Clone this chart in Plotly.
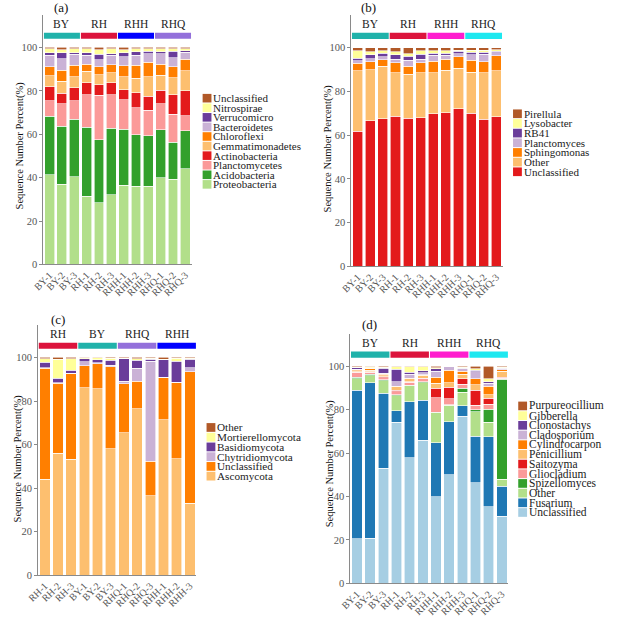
import plotly.graph_objects as go

W, H = 634, 624
FONT = "Liberation Serif, Times New Roman, serif"

# ---------------- data ----------------
# Panel (a): bacterial phyla
a_samples = ["BY-1", "BY-2", "BY-3", "RH-1", "RH-2", "RH-3", "RHH-1", "RHH-2", "RHH-3", "RHQ-1", "RHQ-2", "RHQ-3"]
a_groups = ["BY", "RH", "RHH", "RHQ"]
a_group_colors = ["#20b2aa", "#dc143c", "#0000ff", "#9370db"]
a_taxa = ["Proteobacteria", "Acidobacteria", "Planctomycetes", "Actinobacteria", "Gemmatimonadetes",
          "Chloroflexi", "Bacteroidetes", "Verrucomicro", "Nitrospirae", "Unclassified"]
a_colors = ["#b2df8a", "#33a02c", "#fb9a99", "#e31a1c", "#fdbf6f", "#ff7f00", "#cab2d6", "#6a3d9a", "#ffff99", "#b15928"]
a_values = [  # one row per sample, columns follow a_taxa
    [41.3, 27.0, 7.2, 6.3, 5.2, 4.0, 5.5, 1.0, 1.8, 0.7],
    [37.0, 26.6, 10.4, 4.8, 5.5, 5.2, 5.3, 2.7, 1.5, 1.0],
    [40.5, 26.3, 8.7, 5.8, 5.2, 5.2, 5.1, 0.7, 1.8, 0.7],
    [31.5, 31.8, 14.9, 5.6, 5.2, 3.3, 4.0, 1.2, 1.8, 0.7],
    [28.5, 29.0, 20.5, 4.8, 4.7, 3.7, 3.1, 2.5, 2.2, 1.0],
    [32.0, 30.8, 15.4, 5.6, 4.5, 3.7, 4.3, 0.7, 2.3, 0.7],
    [36.5, 25.8, 13.5, 4.8, 5.9, 5.0, 4.3, 1.7, 1.5, 1.0],
    [36.0, 23.8, 12.3, 7.0, 6.6, 6.1, 4.5, 1.7, 1.3, 0.7],
    [36.0, 23.3, 11.7, 6.5, 9.0, 6.7, 3.8, 1.2, 1.1, 0.7],
    [40.0, 22.0, 12.0, 6.2, 7.0, 5.0, 4.8, 1.0, 1.3, 0.7],
    [39.3, 17.0, 12.9, 9.1, 7.7, 5.2, 4.1, 2.9, 1.1, 0.7],
    [44.2, 17.3, 6.9, 11.6, 9.3, 5.2, 3.3, 0.6, 0.9, 0.7],
]

# Panel (b): bacterial genera
b_samples = a_samples
b_groups = ["BY", "RH", "RHH", "RHQ"]
b_group_colors = ["#20b2aa", "#dc143c", "#ff1dce", "#1ee8f0"]
b_taxa = ["Unclassified", "Other", "Sphingomonas", "Planctomyces", "RB41", "Lysobacter", "Pirellula"]
b_colors = ["#e31a1c", "#fdbf6f", "#ff7f00", "#cab2d6", "#6a3d9a", "#ffff99", "#b15928"]
b_values = [
    [61.7, 27.7, 3.5, 1.1, 1.2, 3.3, 1.5],
    [66.5, 23.5, 3.5, 1.5, 1.7, 1.5, 1.8],
    [67.5, 24.0, 3.0, 1.3, 1.7, 1.0, 1.5],
    [68.7, 19.8, 4.7, 1.6, 2.0, 1.4, 1.8],
    [67.8, 20.0, 3.7, 2.7, 1.8, 1.2, 2.8],
    [68.0, 20.5, 4.7, 1.6, 2.2, 1.7, 1.3],
    [69.7, 18.8, 5.3, 2.7, 1.0, 1.0, 1.5],
    [70.2, 19.5, 5.1, 1.7, 1.0, 1.0, 1.5],
    [72.0, 18.5, 5.3, 1.5, 1.0, 0.5, 1.2],
    [70.0, 18.8, 5.5, 2.5, 1.0, 1.0, 1.2],
    [67.3, 21.2, 5.0, 3.5, 0.8, 1.0, 1.2],
    [68.5, 21.0, 6.8, 1.4, 0.6, 0.7, 1.0],
]

# Panel (c): fungal phyla
c_samples = ["RH-1", "RH-2", "RH-3", "BY-1", "BY-2", "BY-3", "RHQ-1", "RHQ-2", "RHQ-3", "RHH-1", "RHH-2", "RHH-3"]
c_groups = ["RH", "BY", "RHQ", "RHH"]
c_group_colors = ["#dc143c", "#20b2aa", "#9370db", "#0000ff"]
c_taxa = ["Ascomycota", "Unclassified", "Chytridiomycota", "Basidiomycota", "Mortierellomycota", "Other"]
c_colors = ["#fdbf6f", "#ff7f00", "#cab2d6", "#6a3d9a", "#ffff99", "#b15928"]
c_values = [
    [44.0, 51.0, 0.3, 2.4, 1.8, 0.5],
    [56.0, 32.2, 0.3, 2.0, 8.8, 0.7],
    [53.3, 39.2, 0.3, 1.4, 5.3, 0.5],
    [86.0, 10.3, 1.7, 1.5, 0.3, 0.2],
    [85.7, 11.5, 0.4, 1.4, 0.8, 0.2],
    [58.0, 37.8, 0.7, 2.2, 1.0, 0.3],
    [65.5, 22.5, 1.0, 10.5, 0.2, 0.3],
    [76.5, 12.5, 6.0, 3.8, 0.7, 0.5],
    [36.5, 15.8, 45.9, 1.0, 0.4, 0.4],
    [71.5, 19.2, 0.2, 8.1, 0.2, 0.8],
    [53.5, 35.0, 0.2, 9.5, 1.4, 0.4],
    [33.0, 60.5, 1.7, 4.1, 0.3, 0.4],
]

# Panel (d): fungal genera
d_samples = a_samples
d_groups = ["BY", "RH", "RHH", "RHQ"]
d_group_colors = ["#20b2aa", "#dc143c", "#ff1dce", "#1ee8f0"]
d_taxa = ["Unclassified", "Fusarium", "Other", "Spizellomyces", "Gliocladium", "Saitozyma", "Penicillium",
          "Cylindrocarpon", "Cladosporium", "Clonostachys", "Gibberella", "Purpureocillium"]
d_colors = ["#a6cee3", "#1f78b4", "#b2df8a", "#33a02c", "#fb9a99", "#e31a1c", "#fdbf6f",
            "#ff7f00", "#cab2d6", "#6a3d9a", "#ffff99", "#b15928"]
d_values = [
    [20.5, 68.5, 5.3, 0.7, 2.2, 0.3, 0.5, 0.3, 0.4, 0.6, 0.3, 0.4],
    [20.8, 71.7, 3.1, 0.7, 1.0, 0.3, 0.6, 0.6, 0.4, 0.2, 0.3, 0.3],
    [53.0, 34.5, 5.8, 0.5, 1.0, 0.4, 0.5, 0.6, 0.4, 2.5, 0.4, 0.4],
    [74.2, 5.3, 7.0, 0.3, 1.5, 0.7, 1.5, 0.3, 2.2, 5.7, 1.1, 0.2],
    [57.8, 25.9, 7.3, 0.3, 1.4, 0.3, 1.3, 0.3, 1.7, 1.0, 2.5, 0.2],
    [66.0, 18.3, 8.2, 0.3, 1.5, 0.3, 1.2, 0.3, 0.9, 1.0, 1.8, 0.2],
    [39.8, 25.0, 13.7, 0.3, 6.7, 4.5, 2.3, 2.7, 2.8, 1.0, 0.5, 0.7],
    [50.0, 24.5, 7.5, 0.3, 2.7, 5.3, 2.2, 5.7, 1.6, 0.1, 0.05, 0.05],
    [77.0, 4.8, 6.2, 2.0, 1.8, 2.4, 2.1, 1.5, 1.0, 0.4, 0.3, 0.5],
    [46.3, 21.5, 11.2, 1.0, 2.0, 7.0, 2.5, 2.8, 3.2, 0.7, 0.6, 1.2],
    [35.3, 32.2, 6.8, 5.9, 2.3, 2.8, 1.7, 3.7, 1.5, 0.6, 1.4, 5.8],
    [30.8, 13.9, 3.2, 46.1, 0.5, 0.5, 2.8, 0.5, 0.5, 0.3, 0.4, 0.5],
]

y_ticks = [0, 20, 40, 60, 80, 100]
y_title = "Sequence Number Percent(%)"
panel_labels = ["(a)", "(b)", "(c)", "(d)"]

# ---------------- layout geometry (pixels) ----------------
panels = [
    dict(samples=a_samples, groups=a_groups, gcolors=a_group_colors, taxa=a_taxa, colors=a_colors, values=a_values,
         xpx=(32, 183), ypx=(15, 267), title_px=(8, 147), label_px=(50, 8), legend_px=(194.3, 94.3, 9.67), lfs=11),
    dict(samples=b_samples, groups=b_groups, gcolors=b_group_colors, taxa=b_taxa, colors=b_colors, values=b_values,
         xpx=(346, 500), ypx=(15, 269), title_px=(322, 150), label_px=(363.5, 8), legend_px=(510.7, 110, 9.76), lfs=11),
    dict(samples=c_samples, groups=c_groups, gcolors=c_group_colors, taxa=c_taxa, colors=c_colors, values=c_values,
         xpx=(26.7, 188), ypx=(328, 580.7), title_px=(6, 463), label_px=(47, 323), legend_px=(198.3, 426.7, 9.83), lfs=11.2),
    dict(samples=d_samples, groups=d_groups, gcolors=d_group_colors, taxa=d_taxa, colors=d_colors, values=d_values,
         xpx=(345, 506), ypx=(337, 589), title_px=(324, 468), label_px=(364, 328), legend_px=(516, 405, 9.78), lfs=11.5),
]


def px_x(x):
    return x / W


def px_y(y):
    return 1 - y / H


fig = go.Figure()
shapes = []
annotations = []
layout = {}

for i, p in enumerate(panels):
    k = "" if i == 0 else str(i + 1)
    xa, ya = "x" + k, "y" + k
    n = len(p["samples"])
    xs = list(range(n))
    for t, (taxon, col) in enumerate(zip(p["taxa"], p["colors"])):
        fig.add_trace(go.Bar(
            x=xs, y=[row[t] for row in p["values"]], name=taxon,
            marker=dict(color=col, line=dict(color="white", width=0.6)),
            xaxis=xa, yaxis=ya, showlegend=False,
        ))
    layout["xaxis" + k] = dict(
        domain=[px_x(p["xpx"][0]), px_x(p["xpx"][1])], anchor=ya,
        range=[-0.5, n - 0.5], tickvals=xs, ticktext=p["samples"], tickangle=-45,
        showline=True, linecolor="#8a8a8a", linewidth=1, showgrid=False, zeroline=False,
        ticks="", tickfont=dict(family=FONT, size=10, color="#555555"),
    )
    layout["yaxis" + k] = dict(
        domain=[px_y(p["ypx"][1]), px_y(p["ypx"][0])], anchor=xa,
        range=[0, 115], tickvals=y_ticks, showline=True, linecolor="#8a8a8a", linewidth=1,
        showgrid=False, zeroline=False, ticks="outside", ticklen=3, tickcolor="#8a8a8a",
        tickfont=dict(family=FONT, size=10.5, color="#555555"),
    )
    # group headers
    per = n // len(p["groups"])
    for g, (gname, gcol) in enumerate(zip(p["groups"], p["gcolors"])):
        s, e = g * per, g * per + per - 1
        shapes.append(dict(type="rect", xref=xa, yref=ya, x0=s - 0.46, x1=e + 0.46, y0=104, y1=106.8,
                           fillcolor=gcol, line=dict(width=0)))
        annotations.append(dict(xref=xa, yref=ya, x=(s + e) / 2, y=110.8, text=gname, showarrow=False,
                                font=dict(family=FONT, size=11.5, color="#222222")))
    # y title
    annotations.append(dict(xref="paper", yref="paper", x=px_x(p["title_px"][0]), y=px_y(p["title_px"][1]),
                            text=y_title, textangle=-90, showarrow=False, xanchor="center", yanchor="middle",
                            font=dict(family=FONT, size=10.5, color="#111111")))
    # panel label
    annotations.append(dict(xref="paper", yref="paper", x=px_x(p["label_px"][0]), y=px_y(p["label_px"][1]),
                            text=panel_labels[i], showarrow=False, xanchor="center", yanchor="middle",
                            font=dict(family=FONT, size=13, color="#111111")))
    # compact legend (top item = last series)
    lx, ly, step = p["legend_px"]
    for j, t in enumerate(reversed(range(len(p["taxa"])))):
        y0 = ly + j * step
        shapes.append(dict(type="rect", xref="paper", yref="paper",
                           x0=px_x(lx), x1=px_x(lx + 9), y0=px_y(y0 + step - 0.5), y1=px_y(y0 + 0.5),
                           fillcolor=p["colors"][t], line=dict(width=0)))
        annotations.append(dict(xref="paper", yref="paper", x=px_x(lx + 10), y=px_y(y0 + step / 2),
                                text=p["taxa"][t], showarrow=False, xanchor="left", yanchor="middle",
                                borderpad=0, font=dict(family=FONT, size=p["lfs"], color="#222222")))

fig.update_layout(
    width=W, height=H, margin=dict(l=0, r=0, t=0, b=0),
    paper_bgcolor="white", plot_bgcolor="white",
    barmode="stack", bargap=0.2, showlegend=False,
    shapes=shapes, annotations=annotations,
    font=dict(family=FONT),
    **layout,
)

fig.write_html("out.html")
